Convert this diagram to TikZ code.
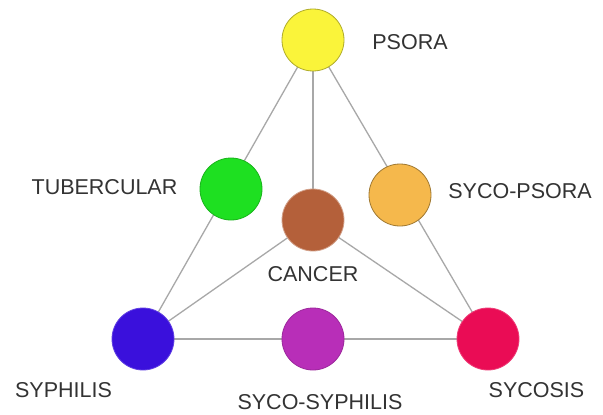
\documentclass[tikz,border=0pt]{standalone}
\usepackage{fontspec}
\setmainfont{Liberation Sans}
\usetikzlibrary{backgrounds}
\definecolor{cpsora}{HTML}{FAF43A}
\definecolor{ctuber}{HTML}{1EE021}
\definecolor{ccancer}{HTML}{B4603A}
\definecolor{csycops}{HTML}{F5B84C}
\definecolor{csyph}{HTML}{3A10DC}
\definecolor{csycosyph}{HTML}{B82EB8}
\definecolor{csycosis}{HTML}{EA0C55}
\definecolor{clink}{HTML}{A8A8A8}
\definecolor{ctext}{HTML}{333333}
\begin{document}
\begin{tikzpicture}[x=1pt,y=-1pt,
  ball/.style={circle,minimum size=62pt,inner sep=0pt,line width=0.8pt},
  lbl/.style={text=ctext,font=\fontsize{21.5}{24}\selectfont,inner sep=0pt},
  link/.style={draw=clink,line width=1.3pt}]
\useasboundingbox (0,0) rectangle (603,415);
\node[ball,fill=cpsora,draw=cpsora!70!black] (psora) at (313,40) {};
\node[ball,fill=ctuber,draw=ctuber!80!black] (tuber) at (231,189) {};
\node[ball,fill=ccancer,draw=ccancer!60!white] (cancer) at (313,220) {};
\node[ball,fill=csycops,draw=csycops!65!black] (sycops) at (400,195) {};
\node[ball,fill=csyph,draw=csyph!80!white] (syph) at (143,339) {};
\node[ball,fill=csycosyph,draw=csycosyph!85!black] (sycosyph) at (313,339) {};
\node[ball,fill=csycosis,draw=csycosis!80!white] (sycosis) at (488,339) {};
\begin{scope}[on background layer]
\fill[white] (0,0) rectangle (603,415);
\draw[link] (psora.center) -- (syph.center);
\draw[link] (psora.center) -- (sycosis.center);
\draw[link] (psora.center) -- (cancer.center);
\draw[link] (cancer.center) -- (syph.center);
\draw[link] (cancer.center) -- (sycosis.center);
\draw[link] (syph.center) -- (sycosis.center);
\end{scope}
\node[lbl] (lpsora) at (410,42) {PSORA};
\node[lbl] (ltuber) at (104.5,187) {TUBERCULAR};
\node[lbl] (lsycops) at (520,191.5) {SYCO-PSORA};
\node[lbl] (lcancer) at (313,274.5) {CANCER};
\node[lbl] (lsyph) at (63.5,390) {SYPHILIS};
\node[lbl] (lsycosyph) at (320,402) {SYCO-SYPHILIS};
\node[lbl] (lsycosis) at (536.5,390) {SYCOSIS};
\end{tikzpicture}
\end{document}
